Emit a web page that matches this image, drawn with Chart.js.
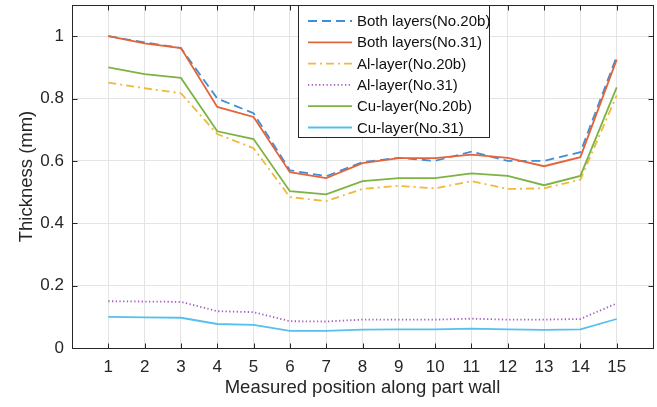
<!DOCTYPE html>
<html>
<head>
<meta charset="utf-8">
<script src="https://cdn.jsdelivr.net/npm/chart.js@4.4.1/dist/chart.umd.min.js"></script>
<style>
  html, body { margin: 0; padding: 0; background: #fff; }
</style>
</head>
<body>
<canvas id="graficoEspessura" width="657" height="407"></canvas>
<script>
// Measured positions along the part wall
const posicoes = [1, 2, 3, 4, 5, 6, 7, 8, 9, 10, 11, 12, 13, 14, 15];
const yTicks = [0, 0.2, 0.4, 0.6, 0.8, 1];

// Thickness (mm) per position
const bothLayers20b = [1.0, 0.98, 0.962, 0.80, 0.753, 0.57, 0.551, 0.596, 0.61, 0.60, 0.63, 0.60, 0.60, 0.628, 0.935];
const bothLayers31  = [1.0, 0.977, 0.962, 0.773, 0.741, 0.564, 0.545, 0.593, 0.609, 0.609, 0.62, 0.61, 0.583, 0.612, 0.925];
const alLayer20b    = [0.851, 0.833, 0.817, 0.686, 0.641, 0.484, 0.471, 0.51, 0.52, 0.512, 0.535, 0.51, 0.512, 0.54, 0.81];
const alLayer31     = [0.150, 0.149, 0.148, 0.118, 0.115, 0.086, 0.085, 0.091, 0.091, 0.091, 0.094, 0.091, 0.091, 0.093, 0.143];
const cuLayer20b    = [0.90, 0.878, 0.866, 0.695, 0.67, 0.503, 0.493, 0.535, 0.545, 0.545, 0.56, 0.552, 0.522, 0.552, 0.836];
const cuLayer31     = [0.100, 0.098, 0.097, 0.077, 0.074, 0.055, 0.055, 0.059, 0.060, 0.060, 0.062, 0.060, 0.058, 0.060, 0.093];

const series = [
  { label: 'Both layers(No.20b)', data: bothLayers20b, color: '#3d8fd6', dash: [9, 5] },
  { label: 'Both layers(No.31)',  data: bothLayers31,  color: '#e3643a', dash: [] },
  { label: 'Al-layer(No.20b)',    data: alLayer20b,    color: '#f0b93c', dash: [8, 4, 2, 4] },
  { label: 'Al-layer(No.31)',     data: alLayer31,     color: '#a35cbf', dash: [1.3, 2.4] },
  { label: 'Cu-layer(No.20b)',    data: cuLayer20b,    color: '#7db342', dash: [] },
  { label: 'Cu-layer(No.31)',     data: cuLayer31,     color: '#55c0ef', dash: [] }
];

const corEixo = '#262626';
const fonte = '"Liberation Sans", Arial, Helvetica, sans-serif';

// Axes box, inward tick marks and the legend drawn over the lines
const moldura = {
  id: 'moldura',
  afterDatasetsDraw(chart) {
    const { ctx, chartArea: a, scales: { x, y } } = chart;
    const L = Math.round(a.left) + 0.5, R = Math.round(a.right) + 0.5;
    const T = Math.round(a.top) + 0.5, B = Math.round(a.bottom) + 0.5;
    ctx.save();
    ctx.strokeStyle = corEixo;
    ctx.lineWidth = 1;
    ctx.setLineDash([]);
    ctx.strokeRect(L, T, R - L, B - T);
    ctx.beginPath();
    posicoes.forEach(p => {
      const px = Math.round(x.getPixelForValue(p)) + 0.5;
      ctx.moveTo(px, B); ctx.lineTo(px, B - 5);
      ctx.moveTo(px, T); ctx.lineTo(px, T + 5);
    });
    yTicks.forEach(v => {
      const py = Math.round(y.getPixelForValue(v)) + 0.5;
      ctx.moveTo(L, py); ctx.lineTo(L + 5, py);
      ctx.moveTo(R, py); ctx.lineTo(R - 5, py);
    });
    ctx.stroke();

    // legend
    const bx = 298.5, by = 5.5, bw = 191, bh = 132;
    ctx.fillStyle = '#fff';
    ctx.fillRect(bx, by, bw, bh);
    ctx.strokeStyle = corEixo;
    ctx.strokeRect(bx, by, bw, bh);
    ctx.font = '15px ' + fonte;
    ctx.textBaseline = 'middle';
    ctx.textAlign = 'left';
    chart.data.datasets.forEach((ds, i) => {
      const ly = 21 + i * 21.3;
      ctx.strokeStyle = ds.borderColor;
      ctx.lineWidth = ds.borderWidth;
      ctx.setLineDash(ds.borderDash);
      ctx.beginPath();
      ctx.moveTo(308, ly);
      ctx.lineTo(352, ly);
      ctx.stroke();
      ctx.fillStyle = '#111';
      ctx.fillText(ds.label, 357, ly + 1);
    });
    ctx.restore();
  }
};

const ctx = document.getElementById('graficoEspessura').getContext('2d');
new Chart(ctx, {
  type: 'line',
  data: {
    datasets: series.map((s, i) => ({
      label: s.label,
      data: posicoes.map((p, k) => ({ x: p, y: s.data[k] })),
      borderColor: s.color,
      backgroundColor: s.color,
      borderDash: s.dash,
      borderWidth: 1.8,
      pointRadius: 0,
      tension: 0,
      fill: false,
      order: series.length - i
    }))
  },
  options: {
    responsive: false,
    devicePixelRatio: 1,
    animation: false,
    layout: { padding: { top: 5, right: 4, left: 0, bottom: 0 } },
    plugins: { legend: { display: false }, tooltip: { enabled: false } },
    scales: {
      x: {
        type: 'linear',
        min: 0,
        max: 16,
        afterBuildTicks: s => { s.ticks = posicoes.map(v => ({ value: v })); },
        afterFit: s => { s.height = 59; s.paddingLeft = 0; s.paddingRight = 0; },
        ticks: { font: { family: fonte, size: 17 }, color: corEixo, padding: 9, maxRotation: 0,
                 callback: v => String(v) },
        grid: { color: '#e4e4e4', lineWidth: 1, drawTicks: false },
        border: { display: false },
        title: {
          display: true,
          text: 'Measured position along part wall',
          font: { family: fonte, size: 18.5 },
          color: corEixo,
          padding: { top: 0, bottom: 8 }
        }
      },
      y: {
        min: 0,
        max: 1.1,
        afterBuildTicks: s => { s.ticks = yTicks.map(v => ({ value: v })); },
        afterFit: s => { s.width = 72; s.paddingTop = 0; s.paddingBottom = 0; },
        ticks: { font: { family: fonte, size: 17 }, color: corEixo, padding: 8,
                 callback: v => String(Math.round(v * 10) / 10) },
        grid: { color: '#e4e4e4', lineWidth: 1, drawTicks: false },
        border: { display: false },
        title: {
          display: true,
          text: 'Thickness (mm)',
          font: { family: fonte, size: 18.5 },
          color: corEixo,
          padding: { top: 16, bottom: 0 }
        }
      }
    }
  },
  plugins: [moldura]
});
</script>
</body>
</html>
